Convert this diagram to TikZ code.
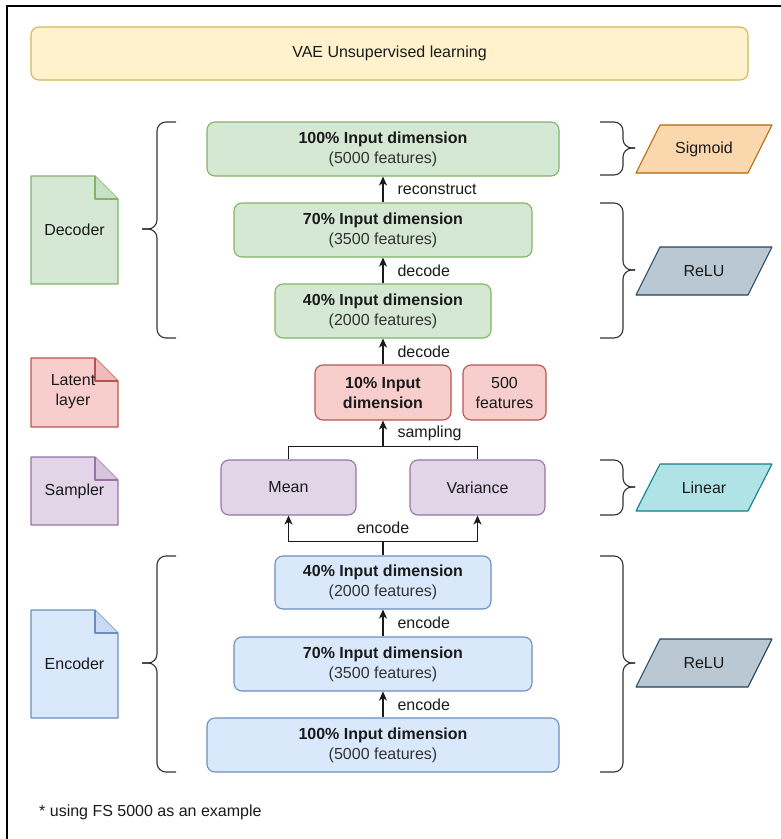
\documentclass[tikz,border=0pt]{standalone}
\usepackage{fontspec}
\setmainfont{Liberation Sans}
\usetikzlibrary{arrows.meta,calc}

\definecolor{titlefill}{HTML}{FFF2CC}\definecolor{titleline}{HTML}{D6B656}
\definecolor{decfill}{HTML}{D5E8D4}\definecolor{decline}{HTML}{82B366}
\definecolor{latfill}{HTML}{F8CECC}\definecolor{latline}{HTML}{B85450}
\definecolor{smpfill}{HTML}{E1D5E7}\definecolor{smpline}{HTML}{9673A6}
\definecolor{encfill}{HTML}{DAE8FC}\definecolor{encline}{HTML}{6C8EBF}
\definecolor{sigfill}{HTML}{FAD7AC}\definecolor{sigline}{HTML}{B46504}
\definecolor{relfill}{HTML}{BAC8D3}\definecolor{relline}{HTML}{23445D}
\definecolor{linfill}{HTML}{B0E3E6}\definecolor{linline}{HTML}{0E8088}
\definecolor{ink}{HTML}{1A1A1A}
\definecolor{subink}{HTML}{333333}

% folded-corner note: x0 y0 x1 y1 fill stroke
\newcommand{\notebox}[6]{%
  \filldraw[fill=#5, draw=#6, line width=1.1pt, line join=round]
    (#1,#2) -- ({#3-23},#2) -- (#3,{#2+23}) -- (#3,#4) -- (#1,#4) -- cycle;
  \fill[#5!85!#6] ({#3-23},#2) -- ({#3-23},{#2+23}) -- (#3,{#2+23}) -- cycle;
  \draw[#6, line width=1.1pt, line join=round]
    ({#3-23},#2) -- ({#3-23},{#2+23}) -- (#3,{#2+23});
}
% parallelogram: x-left-bottom, y-top, y-bottom, fill, stroke
\newcommand{\slantbox}[5]{%
  \filldraw[fill=#4, draw=#5, line width=1.1pt, line join=round]
    ({#1+24},#2) -- ({#1+136},#2) -- ({#1+112},#3) -- (#1,#3) -- cycle;
}

\begin{document}
\begin{tikzpicture}[x=1pt, y=-1pt,
  font=\fontsize{16}{20}\selectfont, text=ink,
  layer/.style={draw, rounded corners=8pt, line width=1.1pt, align=center,
    inner sep=0pt, text=ink},
  declayer/.style={layer, fill=decfill, draw=decline},
  latlayer/.style={layer, fill=latfill, draw=latline},
  smplayer/.style={layer, fill=smpfill, draw=smpline},
  enclayer/.style={layer, fill=encfill, draw=encline},
  flow/.style={draw=ink, line width=1.1pt, -{Stealth[length=9pt, width=8pt, inset=2.5pt]}},
  plain/.style={draw=ink, line width=1.1pt},
  lbl/.style={anchor=west, inner sep=0pt, xshift=14pt, text=ink},
  brace/.style={draw=subink, line width=1.1pt, rounded corners=9pt},
  sub/.style={text=subink}
]
\useasboundingbox (0,0) rectangle (781,839);

% outer frame
\draw[line width=2pt, black] (7,870) -- (7,6) -- (800,6);

% title
\node[layer, fill=titlefill, draw=titleline, minimum width=717pt, minimum height=53pt]
  (title) at (389.5,53.5) {VAE Unsupervised learning};

% decoder stack
\node[declayer, minimum width=352pt, minimum height=54pt] (d100) at (383,149)
  {\textbf{100\% Input dimension}\\{\color{subink}(5000 features)}};
\node[declayer, minimum width=298pt, minimum height=54pt] (d70) at (383,230)
  {\textbf{70\% Input dimension}\\{\color{subink}(3500 features)}};
\node[declayer, minimum width=216pt, minimum height=54pt] (d40) at (383,311)
  {\textbf{40\% Input dimension}\\{\color{subink}(2000 features)}};

% latent layer
\node[latlayer, minimum width=136pt, minimum height=55pt] (lat) at (383,392.5)
  {\textbf{10\% Input}\\\textbf{dimension}};
\node[latlayer, minimum width=83pt, minimum height=55pt] (feat) at (504.5,392.5)
  {500\\features};

% sampler
\node[smplayer, minimum width=135pt, minimum height=55pt] (mean) at (288.5,487.5) {Mean};
\node[smplayer, minimum width=135pt, minimum height=55pt] (var) at (477.5,487.5) {Variance};

% encoder stack
\node[enclayer, minimum width=216pt, minimum height=53pt] (e40) at (383,582.5)
  {\textbf{40\% Input dimension}\\{\color{subink}(2000 features)}};
\node[enclayer, minimum width=298pt, minimum height=54pt] (e70) at (383,664)
  {\textbf{70\% Input dimension}\\{\color{subink}(3500 features)}};
\node[enclayer, minimum width=352pt, minimum height=54pt] (e100) at (383,745)
  {\textbf{100\% Input dimension}\\{\color{subink}(5000 features)}};

% connectors
\draw[flow] (e100) -- node[lbl] {encode} (e70);
\draw[flow] (e70) -- node[lbl] {encode} (e40);
\draw[plain] (e40.north) -- ++(0,-14) coordinate (split);
\node[inner sep=0pt, anchor=south] (enclbl) at ($(split)+(0,-8)$) {encode};
\draw[flow] (split) -| (mean.south);
\draw[flow] (split) -| (var.south);
\draw[plain] (mean.north) -- ++(0,-13) coordinate (mjoin) -| (var.north);
\coordinate (join) at (lat.south |- mjoin);
\draw[flow] (join) -- node[lbl] {sampling} (lat.south);
\draw[flow] (lat) -- node[lbl] {decode} (d40);
\draw[flow] (d40) -- node[lbl] {decode} (d70);
\draw[flow] (d70) -- node[lbl] {reconstruct} (d100);

% left notes
\notebox{31}{176}{118}{284}{decfill}{decline}
\node[align=center] (decnote) at (74.5,230) {Decoder};
\notebox{31}{358}{118}{427}{latfill}{latline}
\node[align=center] (latnote) at (73,392) {Latent\\layer};
\notebox{31}{457}{118}{525}{smpfill}{smpline}
\node[align=center] (smpnote) at (74.5,491) {Sampler};
\notebox{31}{610}{118}{718}{encfill}{encline}
\node[align=center] (encnote) at (74.5,664) {Encoder};

% left braces
\draw[brace] (176,122) -- (157,122) -- (157,229) -- (142,229);
\draw[brace] (142,229) -- (157,229) -- (157,338) -- (176,338);
\draw[brace] (176,556) -- (157,556) -- (157,663) -- (142,663);
\draw[brace] (142,663) -- (157,663) -- (157,772) -- (176,772);

% right braces
\draw[brace] (600,122) -- (623,122) -- (623,148) -- (635,148);
\draw[brace] (635,148) -- (623,148) -- (623,175) -- (600,175);
\draw[brace] (600,203) -- (623,203) -- (623,270) -- (635,270);
\draw[brace] (635,270) -- (623,270) -- (623,338) -- (600,338);
\draw[brace] (600,460) -- (623,460) -- (623,487) -- (635,487);
\draw[brace] (635,487) -- (623,487) -- (623,515) -- (600,515);
\draw[brace] (600,556) -- (623,556) -- (623,663) -- (635,663);
\draw[brace] (635,663) -- (623,663) -- (623,772) -- (600,772);

% activation functions
\slantbox{636}{125}{173}{sigfill}{sigline}
\node (sig) at (704,149) {Sigmoid};
\slantbox{636}{247}{295}{relfill}{relline}
\node (reluDec) at (704,271) {ReLU};
\slantbox{636}{464}{511}{linfill}{linline}
\node (lin) at (704,487.5) {Linear};
\slantbox{636}{639}{687}{relfill}{relline}
\node (reluEnc) at (704,663) {ReLU};

% footnote
\node[anchor=west, inner sep=0pt] (note) at (39,812) {* using FS 5000 as an example};
\end{tikzpicture}
\end{document}
